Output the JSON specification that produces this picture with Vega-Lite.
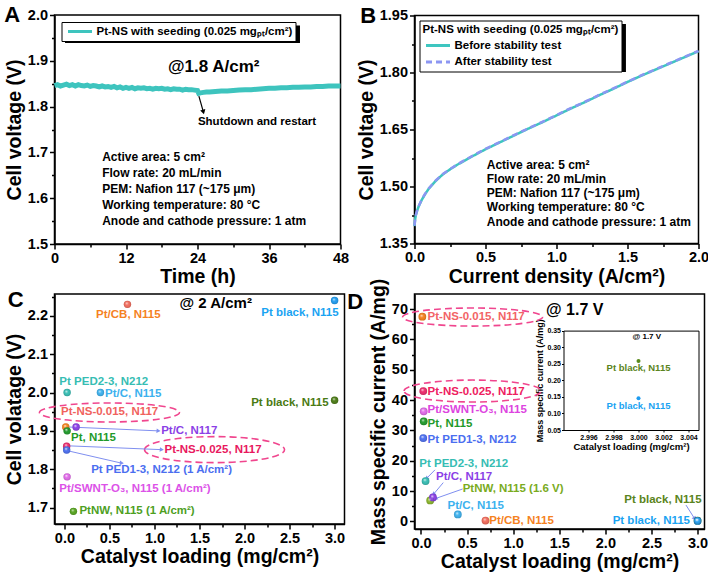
{
  "$schema": "https://vega.github.io/schema/vega-lite/v6.json",
  "background": "white",
  "padding": {"left": 2.5, "top": 3, "right": 2, "bottom": 2},
  "config": {
    "font": "Liberation Sans",
    "view": {"stroke": "black", "strokeWidth": 1.5},
    "axis": {
      "grid": false, "domainColor": "black", "domainWidth": 1.5, "tickColor": "black", "tickWidth": 1.5, "tickSize": 5,
      "labelFontSize": 14.5, "labelFontWeight": "bold", "labelColor": "black", "labelPadding": 2, "labelFlush": false,
      "titleFontSize": 19.5, "titleFontWeight": "bold", "titleColor": "black", "titlePadding": 3
    },
    "text": {"fontWeight": "bold", "font": "Liberation Sans"},
    "legend": {"labelFontWeight": "bold", "labelFontSize": 11.5, "labelColor": "black", "titleFontWeight": "bold", "titleFontSize": 11.5, "titleColor": "black", "strokeColor": "black", "fillColor": "white", "symbolType": "M-2.4,0L2.4,0", "symbolSize": 100, "symbolOffset": 9, "labelOffset": 10, "symbolStrokeWidth": 3, "labelLimit": 400, "titleLimit": 400, "padding": 3}
  },
  "datasets": {
    "lineA": [{"t":0,"v":1.846},{"t":0.5,"v":1.848},{"t":1,"v":1.845},{"t":1.5,"v":1.847},{"t":2,"v":1.849},{"t":2.5,"v":1.846},{"t":3,"v":1.848},{"t":3.5,"v":1.845},{"t":4,"v":1.848},{"t":4.5,"v":1.846},{"t":5,"v":1.845},{"t":5.5,"v":1.847},{"t":6,"v":1.844},{"t":6.5,"v":1.846},{"t":7,"v":1.845},{"t":7.5,"v":1.843},{"t":8,"v":1.845},{"t":8.5,"v":1.843},{"t":9,"v":1.844},{"t":9.5,"v":1.842},{"t":10,"v":1.844},{"t":10.5,"v":1.841},{"t":11,"v":1.843},{"t":11.5,"v":1.840},{"t":12,"v":1.842},{"t":12.5,"v":1.840},{"t":13,"v":1.842},{"t":13.5,"v":1.839},{"t":14,"v":1.841},{"t":14.5,"v":1.840},{"t":15,"v":1.841},{"t":15.5,"v":1.839},{"t":16,"v":1.840},{"t":16.5,"v":1.838},{"t":17,"v":1.840},{"t":17.5,"v":1.839},{"t":18,"v":1.840},{"t":18.5,"v":1.838},{"t":19,"v":1.839},{"t":19.5,"v":1.837},{"t":20,"v":1.839},{"t":20.5,"v":1.838},{"t":21,"v":1.838},{"t":21.5,"v":1.836},{"t":22,"v":1.838},{"t":22.5,"v":1.837},{"t":23,"v":1.837},{"t":23.5,"v":1.836},{"t":24,"v":1.835},{"t":24.2,"v":1.829},{"t":24.5,"v":1.830},{"t":25,"v":1.831},{"t":25.5,"v":1.832},{"t":26,"v":1.832},{"t":27,"v":1.833},{"t":28,"v":1.834},{"t":29,"v":1.834},{"t":30,"v":1.835},{"t":31,"v":1.836},{"t":32,"v":1.837},{"t":33,"v":1.837},{"t":34,"v":1.838},{"t":35,"v":1.839},{"t":36,"v":1.840},{"t":37,"v":1.840},{"t":38,"v":1.841},{"t":39,"v":1.841},{"t":40,"v":1.842},{"t":41,"v":1.842},{"t":42,"v":1.843},{"t":43,"v":1.843},{"t":44,"v":1.844},{"t":45,"v":1.844},{"t":46,"v":1.845},{"t":47,"v":1.845},{"t":48,"v":1.845}],
    "notesA": [{"x":8.0,"y":1.689,"t":"Active area: 5 cm²"},{"x":8.0,"y":1.655,"t":"Flow rate: 20 mL/min"},{"x":8.0,"y":1.620,"t":"PEM: Nafion 117 (~175 μm)"},{"x":8.0,"y":1.586,"t":"Working temperature: 80 °C"},{"x":8.0,"y":1.551,"t":"Anode and cathode pressure: 1 atm"}],
    "notesB": [{"x":0.509,"y":1.557,"t":"Active area: 5 cm²"},{"x":0.509,"y":1.521,"t":"Flow rate: 20 mL/min"},{"x":0.509,"y":1.483,"t":"PEM: Nafion 117 (~175 μm)"},{"x":0.509,"y":1.445,"t":"Working temperature: 80 °C"},{"x":0.509,"y":1.407,"t":"Anode and cathode pressure: 1 atm"}],
    "curveB": [
      {"s":"Before stability test","j":0,"v":1.396},{"s":"Before stability test","j":0.005,"v":1.415},{"s":"Before stability test","j":0.01,"v":1.425},{"s":"Before stability test","j":0.02,"v":1.438},{"s":"Before stability test","j":0.03,"v":1.448},{"s":"Before stability test","j":0.05,"v":1.464},{"s":"Before stability test","j":0.075,"v":1.48},{"s":"Before stability test","j":0.1,"v":1.494},{"s":"Before stability test","j":0.15,"v":1.515},{"s":"Before stability test","j":0.2,"v":1.532},{"s":"Before stability test","j":0.25,"v":1.545},{"s":"Before stability test","j":0.3,"v":1.557},{"s":"Before stability test","j":0.4,"v":1.578},{"s":"Before stability test","j":0.5,"v":1.598},{"s":"Before stability test","j":0.6,"v":1.616},{"s":"Before stability test","j":0.7,"v":1.634},{"s":"Before stability test","j":0.8,"v":1.652},{"s":"Before stability test","j":0.9,"v":1.669},{"s":"Before stability test","j":1.0,"v":1.687},{"s":"Before stability test","j":1.1,"v":1.705},{"s":"Before stability test","j":1.2,"v":1.722},{"s":"Before stability test","j":1.3,"v":1.74},{"s":"Before stability test","j":1.4,"v":1.757},{"s":"Before stability test","j":1.5,"v":1.775},{"s":"Before stability test","j":1.6,"v":1.792},{"s":"Before stability test","j":1.7,"v":1.808},{"s":"Before stability test","j":1.8,"v":1.824},{"s":"Before stability test","j":1.9,"v":1.84},{"s":"Before stability test","j":2.0,"v":1.856},
      {"s":"After stability test","j":0,"v":1.397},{"s":"After stability test","j":0.005,"v":1.416},{"s":"After stability test","j":0.01,"v":1.426},{"s":"After stability test","j":0.02,"v":1.439},{"s":"After stability test","j":0.03,"v":1.449},{"s":"After stability test","j":0.05,"v":1.465},{"s":"After stability test","j":0.075,"v":1.481},{"s":"After stability test","j":0.1,"v":1.495},{"s":"After stability test","j":0.15,"v":1.516},{"s":"After stability test","j":0.2,"v":1.533},{"s":"After stability test","j":0.25,"v":1.546},{"s":"After stability test","j":0.3,"v":1.558},{"s":"After stability test","j":0.4,"v":1.579},{"s":"After stability test","j":0.5,"v":1.599},{"s":"After stability test","j":0.6,"v":1.617},{"s":"After stability test","j":0.7,"v":1.635},{"s":"After stability test","j":0.8,"v":1.653},{"s":"After stability test","j":0.9,"v":1.670},{"s":"After stability test","j":1.0,"v":1.688},{"s":"After stability test","j":1.1,"v":1.706},{"s":"After stability test","j":1.2,"v":1.723},{"s":"After stability test","j":1.3,"v":1.741},{"s":"After stability test","j":1.4,"v":1.758},{"s":"After stability test","j":1.5,"v":1.776},{"s":"After stability test","j":1.6,"v":1.793},{"s":"After stability test","j":1.7,"v":1.809},{"s":"After stability test","j":1.8,"v":1.825},{"s":"After stability test","j":1.9,"v":1.841},{"s":"After stability test","j":2.0,"v":1.857}
    ],
    "cpts": [
      {"key":"PtCB","label":"Pt/CB, N115","x":0.7,"y":2.23,"lx":0.352,"ly":2.202},
      {"key":"PtBlackBlue","label":"Pt black, N115","x":3.0,"y":2.24,"lx":2.186,"ly":2.208},
      {"key":"PED23","label":"Pt PED2-3, N212","x":0.03,"y":2.0,"lx":-0.056,"ly":2.028},
      {"key":"PtCN115","label":"Pt/C, N115","x":0.4,"y":2.0,"lx":0.452,"ly":1.997},
      {"key":"PtBlackOlive","label":"Pt black, N115","x":3.0,"y":1.98,"lx":2.074,"ly":1.973},
      {"key":"NS015","label":"Pt-NS-0.015, N117","x":0.015,"y":1.91,"lx":-0.037,"ly":1.948},
      {"key":"PtCN117","label":"Pt/C, N117","x":0.13,"y":1.91,"lx":1.074,"ly":1.899},
      {"key":"PtN115","label":"Pt, N115","x":0.03,"y":1.9,"lx":0.074,"ly":1.881},
      {"key":"NS025","label":"Pt-NS-0.025, N117","x":0.025,"y":1.86,"lx":1.111,"ly":1.849},
      {"key":"PED13","label":"Pt PED1-3, N212 (1 A/cm²)","x":0.025,"y":1.85,"lx":0.297,"ly":1.797},
      {"key":"SWNT","label":"Pt/SWNT-O₃, N115 (1 A/cm²)","x":0.03,"y":1.78,"lx":-0.056,"ly":1.749},
      {"key":"PtNW","label":"PtNW, N115 (1 A/cm²)","x":0.1,"y":1.69,"lx":0.167,"ly":1.691}
    ],
    "dpts": [
      {"key":"NS015","label":"Pt-NS-0.015, N117","x":0.015,"y":67.5,"lx":0.072,"ly":67.4},
      {"key":"NS025","label":"Pt-NS-0.025, N117","x":0.025,"y":43,"lx":0.072,"ly":42.8},
      {"key":"SWNT","label":"Pt/SWNT-O₃, N115","x":0.03,"y":36.3,"lx":0.072,"ly":36.8},
      {"key":"PtN115","label":"Pt, N115","x":0.03,"y":33,"lx":0.072,"ly":32.2},
      {"key":"PED13","label":"Pt PED1-3, N212","x":0.025,"y":27.5,"lx":0.072,"ly":26.9},
      {"key":"PED23","label":"Pt PED2-3, N212","x":0.05,"y":13.3,"lx":-0.018,"ly":19.0},
      {"key":"PtNW","label":"PtNW, N115 (1.6 V)","x":0.1,"y":6.9,"lx":0.452,"ly":10.6},
      {"key":"PtCN117","label":"Pt/C, N117","x":0.13,"y":7.9,"lx":0.163,"ly":14.5},
      {"key":"PtCN115","label":"Pt/C, N115","x":0.4,"y":2.3,"lx":0.289,"ly":5.1},
      {"key":"PtCB","label":"Pt/CB, N115","x":0.7,"y":0.3,"lx":0.741,"ly":0.27},
      {"key":"PtBlackOlive","label":"Pt black, N115","x":3.0,"y":0.26,"lx":2.205,"ly":7.1},
      {"key":"PtBlackBlue","label":"Pt black, N115","x":3.0,"y":0.15,"lx":2.079,"ly":0.27}
    ],
    "inset": [
      {"key":"PtBlackOlive","label":"Pt black, N115","x":3.0,"y":0.258,"ly":0.236},
      {"key":"PtBlackBlue","label":"Pt black, N115","x":3.0,"y":0.146,"ly":0.122}
    ],
    "arrowsC": [
      {"x":0.05,"y":1.91,"x2":1.038,"y2":1.900},
      {"x":0.038,"y":1.861,"x2":1.074,"y2":1.851},
      {"x":0.038,"y":1.848,"x2":0.63,"y2":1.816}
    ],
    "arrowsD": [
      {"g":"a","x":0.152,"y":17.0,"x2":0.065,"y2":14.3},
      {"g":"a","x":0.242,"y":12.8,"x2":0.14,"y2":9.1},
      {"g":"a","x":0.452,"y":10.7,"x2":0.163,"y2":7.6},
      {"g":"b","x":2.874,"y":5.4,"x2":2.965,"y2":1.05}
    ]
  },
  "columns": 2,
  "spacing": {"row": 47, "column": 70},
  "bounds": "flush",
  "align": {"row": "all", "column": "none"},
  "center": true,
  "resolve": {"scale": {"color": "independent", "fill": "independent", "strokeDash": "independent"}},
  "concat": [
    {
      "width": 286, "height": 229,
      "resolve": {"axis": {"x": "independent", "y": "independent"}},
      "layer": [
        {
          "data": {"values": [{"x": 1.762, "x2": 41.2, "y": 1.9771, "y2": 1.9389}]},
          "mark": {"type": "rect", "color": "black"},
          "encoding": {"x": {"field": "x", "type": "quantitative", "axis": null}, "x2": {"field": "x2"}, "y": {"field": "y", "type": "quantitative", "axis": null}, "y2": {"field": "y2"}}
        },
        {
          "data": {"name": "lineA"},
          "mark": {"type": "line", "strokeWidth": 5},
          "encoding": {
            "x": {"field": "t", "type": "quantitative", "scale": {"domain": [0, 48], "nice": false, "zero": false}, "axis": {"values": [0, 12, 24, 36, 48], "title": "Time (h)"}},
            "y": {"field": "v", "type": "quantitative", "scale": {"domain": [1.5, 2.0], "nice": false, "zero": false}, "axis": {"values": [1.5, 1.6, 1.7, 1.8, 1.9, 2.0], "format": ".1f", "title": "Cell voltage (V)"}},
            "color": {"datum": "Pt-NS with seeding (0.025 mgₚₜ/cm²)", "type": "nominal", "scale": {"range": ["#3ec4be"]}, "legend": {"title": null, "orient": "top-left", "offset": 7}}
          }
        },
        {
          "data": {"name": "notesA"},
          "mark": {"type": "text", "align": "left", "baseline": "middle", "fontSize": 12, "color": "black"},
          "encoding": {
            "x": {"field": "x", "type": "quantitative", "axis": {"orient": "bottom", "values": [6, 18, 30, 42], "labels": false, "domain": false, "tickSize": 3, "title": null}},
            "y": {"field": "y", "type": "quantitative", "axis": {"orient": "left", "values": [1.55, 1.65, 1.75, 1.85, 1.95], "labels": false, "domain": false, "tickSize": 3, "title": null}},
            "text": {"field": "t"}
          }
        },
        {
          "data": {"values": [{"x": 19.03, "y": 1.887, "t": "@1.8 A/cm²"}]},
          "mark": {"type": "text", "align": "left", "baseline": "middle", "fontSize": 17, "color": "black"},
          "encoding": {"x": {"field": "x", "type": "quantitative", "axis": null}, "y": {"field": "y", "type": "quantitative", "axis": null}, "text": {"field": "t"}}
        },
        {
          "data": {"values": [{"x": 24.07, "y": 1.767, "t": "Shutdown and restart"}]},
          "mark": {"type": "text", "align": "left", "baseline": "middle", "fontSize": 11.5, "color": "black"},
          "encoding": {"x": {"field": "x", "type": "quantitative", "axis": null}, "y": {"field": "y", "type": "quantitative", "axis": null}, "text": {"field": "t"}}
        },
        {
          "data": {"values": [{"x": 24.23, "y": 1.823, "x2": 24.95, "y2": 1.79}]},
          "mark": {"type": "rule", "color": "black", "strokeWidth": 1.2},
          "encoding": {"x": {"field": "x", "type": "quantitative", "axis": null}, "y": {"field": "y", "type": "quantitative", "axis": null}, "x2": {"field": "x2"}, "y2": {"field": "y2"}}
        },
        {
          "data": {"values": [{"x": 24.95, "y": 1.79}]},
          "mark": {"type": "point", "shape": "triangle", "filled": true, "color": "black", "size": 28, "angle": 165, "opacity": 1},
          "encoding": {"x": {"field": "x", "type": "quantitative", "axis": null}, "y": {"field": "y", "type": "quantitative", "axis": null}}
        },
        {
          "data": {"values": [{"x": -8.44, "y": 2.0, "t": "A"}]},
          "mark": {"type": "text", "align": "left", "baseline": "middle", "fontSize": 22, "color": "black"},
          "encoding": {"x": {"field": "x", "type": "quantitative", "axis": null}, "y": {"field": "y", "type": "quantitative", "axis": null}, "text": {"field": "t"}}
        }
      ]
    },
    {
      "width": 284, "height": 228,
      "resolve": {"axis": {"x": "independent", "y": "independent"}},
      "layer": [
        {
          "data": {"values": [{"x": 0.0599, "x2": 1.489, "y": 1.9276, "y2": 1.8013}]},
          "mark": {"type": "rect", "color": "black"},
          "encoding": {"x": {"field": "x", "type": "quantitative", "axis": null}, "x2": {"field": "x2"}, "y": {"field": "y", "type": "quantitative", "axis": null}, "y2": {"field": "y2"}}
        },
        {
          "data": {"name": "curveB"},
          "mark": {"type": "line", "strokeWidth": 2.5},
          "encoding": {
            "x": {"field": "j", "type": "quantitative", "scale": {"domain": [0, 2], "nice": false, "zero": false}, "axis": {"values": [0, 0.5, 1, 1.5, 2], "format": ".1f", "title": "Current density (A/cm²)"}},
            "y": {"field": "v", "type": "quantitative", "scale": {"domain": [1.35, 1.95], "nice": false, "zero": false}, "axis": {"values": [1.35, 1.5, 1.65, 1.8, 1.95], "format": ".2f", "title": "Cell voltage (V)"}},
            "color": {"field": "s", "type": "nominal", "scale": {"domain": ["Before stability test", "After stability test"], "range": ["#3ec6c0", "#8c96f2"]}, "legend": {"title": "Pt-NS with seeding (0.025 mgₚₜ/cm²)", "orient": "top-left", "offset": 5, "rowPadding": 3.5, "titlePadding": 4}},
            "strokeDash": {"field": "s", "type": "nominal", "scale": {"domain": ["Before stability test", "After stability test"], "range": [[1, 0], [6, 4]]}, "legend": {"title": "Pt-NS with seeding (0.025 mgₚₜ/cm²)", "orient": "top-left", "offset": 5, "rowPadding": 3.5, "titlePadding": 4}}
          }
        },
        {
          "data": {"name": "notesB"},
          "mark": {"type": "text", "align": "left", "baseline": "middle", "fontSize": 12, "color": "black"},
          "encoding": {
            "x": {"field": "x", "type": "quantitative", "axis": {"orient": "bottom", "values": [0.25, 0.75, 1.25, 1.75], "labels": false, "domain": false, "tickSize": 3, "title": null}},
            "y": {"field": "y", "type": "quantitative", "axis": {"orient": "left", "values": [1.425, 1.575, 1.725, 1.875], "labels": false, "domain": false, "tickSize": 3, "title": null}},
            "text": {"field": "t"}
          }
        },
        {
          "data": {"values": [{"x": -0.382, "y": 1.95, "t": "B"}]},
          "mark": {"type": "text", "align": "left", "baseline": "middle", "fontSize": 22, "color": "black"},
          "encoding": {"x": {"field": "x", "type": "quantitative", "axis": null}, "y": {"field": "y", "type": "quantitative", "axis": null}, "text": {"field": "t"}}
        }
      ]
    },
    {
      "width": 290, "height": 230,
      "resolve": {"axis": {"x": "independent", "y": "independent"}},
      "layer": [
        {
          "data": {"values": [{"x": 0.5, "y": 1.948}]},
          "mark": {"type": "point", "shape": "M-1,0C-1,-0.0751,-0.5523,-0.136,0,-0.136C0.5523,-0.136,1,-0.0751,1,0C1,0.0751,0.5523,0.136,0,0.136C-0.5523,0.136,-1,0.0751,-1,0Z", "size": 19600, "filled": false, "stroke": "#f0468e", "strokeWidth": 1.6, "strokeDash": [7, 4], "opacity": 1},
          "encoding": {"x": {"field": "x", "type": "quantitative", "axis": null}, "y": {"field": "y", "type": "quantitative", "axis": null}}
        },
        {
          "data": {"values": [{"x": 1.667, "y": 1.851}]},
          "mark": {"type": "point", "shape": "M-1,0C-1,-0.1027,-0.5523,-0.186,0,-0.186C0.5523,-0.186,1,-0.1027,1,0C1,0.1027,0.5523,0.186,0,0.186C-0.5523,0.186,-1,0.1027,-1,0Z", "size": 19600, "filled": false, "stroke": "#f0468e", "strokeWidth": 1.6, "strokeDash": [7, 4], "opacity": 1},
          "encoding": {"x": {"field": "x", "type": "quantitative", "axis": null}, "y": {"field": "y", "type": "quantitative", "axis": null}}
        },
        {
          "data": {"name": "arrowsC"},
          "mark": {"type": "rule", "color": "#7f8ff0", "strokeWidth": 1},
          "encoding": {"x": {"field": "x", "type": "quantitative", "axis": null}, "y": {"field": "y", "type": "quantitative", "axis": null}, "x2": {"field": "x2"}, "y2": {"field": "y2"}}
        },
        {
          "data": {"name": "arrowsC"},
          "mark": {"type": "point", "shape": "triangle", "filled": true, "color": "#7f8ff0", "size": 22, "angle": 95, "opacity": 1},
          "encoding": {"x": {"field": "x2", "type": "quantitative", "axis": null}, "y": {"field": "y2", "type": "quantitative", "axis": null}}
        },
        {
          "data": {"name": "cpts"},
          "mark": {"type": "circle", "size": 55, "opacity": 1},
          "encoding": {
            "x": {"field": "x", "type": "quantitative", "scale": {"domain": [-0.11, 3.11], "nice": false, "zero": false}, "axis": {"values": [0, 0.5, 1, 1.5, 2, 2.5, 3], "format": ".1f", "title": "Catalyst loading (mg/cm²)"}},
            "y": {"field": "y", "type": "quantitative", "scale": {"domain": [1.657, 2.257], "nice": false, "zero": false}, "axis": {"values": [1.7, 1.8, 1.9, 2.0, 2.1, 2.2], "format": ".1f", "title": "Cell volatage (V)"}},
            "fill": {"field": "key", "type": "nominal", "scale": {"domain": ["PtCB", "PtBlackBlue", "PED23", "PtCN115", "PtBlackOlive", "NS015", "PtCN117", "PtN115", "NS025", "PED13", "SWNT", "PtNW"], "range": ["#f26b5b", "#1e9cf0", "#36bdb3", "#3cb1ee", "#4a7a14", "#f5841f", "#8b3fe6", "#1f9a2a", "#ec2a6c", "#4b6ef0", "#e06ae8", "#55a31e"]}, "legend": null}
          }
        },
        {
          "data": {"name": "cpts"},
          "mark": {"type": "circle", "size": 55, "opacity": 1, "fill": {"gradient": "radial", "x1": 0.38, "y1": 0.32, "r1": 0, "x2": 0.5, "y2": 0.5, "r2": 0.5, "stops": [{"offset": 0, "color": "rgba(255,255,255,0.9)"}, {"offset": 0.45, "color": "rgba(255,255,255,0)"}, {"offset": 1, "color": "rgba(0,0,0,0.18)"}]}},
          "encoding": {"x": {"field": "x", "type": "quantitative", "axis": null}, "y": {"field": "y", "type": "quantitative", "axis": null}}
        },
        {
          "data": {"name": "cpts"},
          "mark": {"type": "text", "align": "left", "baseline": "middle", "fontSize": 11.5},
          "encoding": {
            "x": {"field": "lx", "type": "quantitative", "axis": null},
            "y": {"field": "ly", "type": "quantitative", "axis": null},
            "text": {"field": "label"},
            "color": {"field": "key", "type": "nominal", "scale": {"domain": ["PtCB", "PtBlackBlue", "PED23", "PtCN115", "PtBlackOlive", "NS015", "PtCN117", "PtN115", "NS025", "PED13", "SWNT", "PtNW"], "range": ["#f5821f", "#1aa3f2", "#36bdb3", "#3cb1ee", "#4a7a14", "#f0625d", "#8b3fe6", "#1f9a2a", "#e8185e", "#4b6ef0", "#dc52e8", "#4ea01f"]}, "legend": null}
          }
        },
        {
          "data": {"values": [{"x": 1.278, "y": 2.234, "t": "@ 2 A/cm²"}]},
          "mark": {"type": "text", "align": "left", "baseline": "middle", "fontSize": 15, "color": "black"},
          "encoding": {
            "x": {"field": "x", "type": "quantitative", "axis": {"orient": "bottom", "values": [0.25, 0.75, 1.25, 1.75, 2.25, 2.75], "labels": false, "domain": false, "tickSize": 3, "title": null}},
            "y": {"field": "y", "type": "quantitative", "axis": {"orient": "left", "values": [1.75, 1.85, 1.95, 2.05, 2.15, 2.25], "labels": false, "domain": false, "tickSize": 3, "title": null}},
            "text": {"field": "t"}
          }
        },
        {
          "data": {"values": [{"x": -0.63, "y": 2.242, "t": "C"}]},
          "mark": {"type": "text", "align": "left", "baseline": "middle", "fontSize": 22, "color": "black"},
          "encoding": {"x": {"field": "x", "type": "quantitative", "axis": null}, "y": {"field": "y", "type": "quantitative", "axis": null}, "text": {"field": "t"}}
        }
      ]
    },
    {
      "width": 290, "height": 235,
      "resolve": {"scale": {"x": "independent", "y": "independent"}, "axis": {"x": "independent", "y": "independent"}},
      "layer": [
        {
          "resolve": {"axis": {"x": "independent", "y": "independent"}},
          "layer": [
            {
              "data": {"values": [{"x": 0.56, "y": 67.4}]},
              "mark": {"type": "point", "shape": "M-1,0C-1,-0.0712,-0.5523,-0.129,0,-0.129C0.5523,-0.129,1,-0.0712,1,0C1,0.0712,0.5523,0.129,0,0.129C-0.5523,0.129,-1,0.0712,-1,0Z", "size": 19600, "filled": false, "stroke": "#f0468e", "strokeWidth": 1.6, "strokeDash": [7, 4], "opacity": 1},
              "encoding": {"x": {"field": "x", "type": "quantitative", "axis": null}, "y": {"field": "y", "type": "quantitative", "axis": null}}
            },
            {
              "data": {"values": [{"x": 0.56, "y": 43.0}]},
              "mark": {"type": "point", "shape": "M-1,0C-1,-0.0884,-0.5523,-0.16,0,-0.16C0.5523,-0.16,1,-0.0884,1,0C1,0.0884,0.5523,0.16,0,0.16C-0.5523,0.16,-1,0.0884,-1,0Z", "size": 18769, "filled": false, "stroke": "#f0468e", "strokeWidth": 1.6, "strokeDash": [7, 4], "opacity": 1},
              "encoding": {"x": {"field": "x", "type": "quantitative", "axis": null}, "y": {"field": "y", "type": "quantitative", "axis": null}}
            },
            {
              "data": {"name": "arrowsD"},
              "mark": {"type": "rule", "color": "#7f8ff0", "strokeWidth": 1},
              "encoding": {"x": {"field": "x", "type": "quantitative", "axis": null}, "y": {"field": "y", "type": "quantitative", "axis": null}, "x2": {"field": "x2"}, "y2": {"field": "y2"}}
            },
            {
              "data": {"name": "arrowsD"},
              "transform": [{"filter": "datum.g == 'a'"}],
              "mark": {"type": "point", "shape": "triangle", "filled": true, "color": "#7f8ff0", "size": 22, "angle": 230, "opacity": 1},
              "encoding": {"x": {"field": "x2", "type": "quantitative", "axis": null}, "y": {"field": "y2", "type": "quantitative", "axis": null}}
            },
            {
              "data": {"name": "arrowsD"},
              "transform": [{"filter": "datum.g == 'b'"}],
              "mark": {"type": "point", "shape": "triangle", "filled": true, "color": "#7f8ff0", "size": 22, "angle": 148, "opacity": 1},
              "encoding": {"x": {"field": "x2", "type": "quantitative", "axis": null}, "y": {"field": "y2", "type": "quantitative", "axis": null}}
            },
            {
              "data": {"name": "dpts"},
              "mark": {"type": "circle", "size": 60, "opacity": 1},
              "encoding": {
                "x": {"field": "x", "type": "quantitative", "scale": {"domain": [-0.07, 3.075], "nice": false, "zero": false}, "axis": {"orient": "bottom", "values": [0, 0.5, 1, 1.5, 2, 2.5, 3], "format": ".1f", "title": "Catalyst loading (mg/cm²)"}},
                "y": {"field": "y", "type": "quantitative", "scale": {"domain": [-2.5, 75], "nice": false, "zero": false}, "axis": {"orient": "left", "values": [0, 10, 20, 30, 40, 50, 60, 70], "title": "Mass specific current (A/mg)"}},
                "fill": {"field": "key", "type": "nominal", "scale": {"domain": ["PtCB", "PtBlackBlue", "PED23", "PtCN115", "PtBlackOlive", "NS015", "PtCN117", "PtN115", "NS025", "PED13", "SWNT", "PtNW"], "range": ["#f26b5b", "#1e9cf0", "#36bdb3", "#3cb1ee", "#5a8a1c", "#f5801a", "#8b3fe6", "#1f9a2a", "#ec2a6c", "#4b6ef0", "#e06ae8", "#8ab52a"]}, "legend": null}
              }
            },
            {
              "data": {"name": "dpts"},
              "mark": {"type": "circle", "size": 60, "opacity": 1, "fill": {"gradient": "radial", "x1": 0.38, "y1": 0.32, "r1": 0, "x2": 0.5, "y2": 0.5, "r2": 0.5, "stops": [{"offset": 0, "color": "rgba(255,255,255,0.9)"}, {"offset": 0.45, "color": "rgba(255,255,255,0)"}, {"offset": 1, "color": "rgba(0,0,0,0.18)"}]}},
              "encoding": {"x": {"field": "x", "type": "quantitative", "axis": null}, "y": {"field": "y", "type": "quantitative", "axis": null}}
            },
            {
              "data": {"name": "dpts"},
              "mark": {"type": "text", "align": "left", "baseline": "middle", "fontSize": 11.5},
              "encoding": {
                "x": {"field": "lx", "type": "quantitative", "axis": null},
                "y": {"field": "ly", "type": "quantitative", "axis": null},
                "text": {"field": "label"},
                "color": {"field": "key", "type": "nominal", "scale": {"domain": ["PtCB", "PtBlackBlue", "PED23", "PtCN115", "PtBlackOlive", "NS015", "PtCN117", "PtN115", "NS025", "PED13", "SWNT", "PtNW"], "range": ["#f5821f", "#1aa3f2", "#36bdb3", "#3cb1ee", "#5a8420", "#f26466", "#8b3fe6", "#1f9a2a", "#ee2060", "#4b6ef0", "#dd44e0", "#7aab1e"]}, "legend": null}
              }
            },
            {
              "data": {"values": [{"x": 1.356, "y": 69.8, "t": "@ 1.7 V"}]},
              "mark": {"type": "text", "align": "left", "baseline": "middle", "fontSize": 16, "color": "black"},
              "encoding": {
                "x": {"field": "x", "type": "quantitative", "axis": {"orient": "bottom", "values": [0.25, 0.75, 1.25, 1.75, 2.25, 2.75], "labels": false, "domain": false, "tickSize": 3, "title": null}},
                "y": {"field": "y", "type": "quantitative", "axis": {"orient": "left", "values": [5, 15, 25, 35, 45, 55, 65], "labels": false, "domain": false, "tickSize": 3, "title": null}},
                "text": {"field": "t"}
              }
            },
            {
              "data": {"values": [{"x": -0.80, "y": 72.3, "t": "D"}]},
              "mark": {"type": "text", "align": "left", "baseline": "middle", "fontSize": 22, "color": "black"},
              "encoding": {"x": {"field": "x", "type": "quantitative", "axis": null}, "y": {"field": "y", "type": "quantitative", "axis": null}, "text": {"field": "t"}}
            }
          ]
        },
        {
          "resolve": {"axis": {"x": "independent", "y": "independent"}},
          "layer": [
            {
              "data": {"name": "inset"},
              "mark": {"type": "circle", "size": 16, "opacity": 1},
              "encoding": {
                "x": {"field": "x", "type": "quantitative", "scale": {"domain": [2.994, 3.0048], "range": [149, 284], "nice": false, "zero": false}, "axis": {"orient": "bottom", "offset": -99, "values": [2.996, 2.998, 3.0, 3.002, 3.004], "format": ".3f", "labelFontSize": 7, "tickSize": 2, "tickWidth": 1, "domainWidth": 1, "labelPadding": 1, "title": "Catalyst loading (mg/cm²)", "titleFontSize": 9.5, "titlePadding": 1}},
                "y": {"field": "y", "type": "quantitative", "scale": {"domain": [0.05, 0.35], "range": [136, 36.6], "nice": false, "zero": false}, "axis": {"orient": "left", "offset": -149, "values": [0.05, 0.1, 0.15, 0.2, 0.25, 0.3, 0.35], "format": ".2f", "labelFontSize": 7, "tickSize": 2, "tickWidth": 1, "domainWidth": 1, "labelPadding": 1, "title": "Mass specific current (A/mg)", "titleFontSize": 9, "titlePadding": 2}},
                "fill": {"field": "key", "type": "nominal", "legend": null}
              }
            },
            {
              "data": {"name": "inset"},
              "mark": {"type": "text", "align": "center", "baseline": "middle", "fontSize": 9.5},
              "encoding": {
                "x": {"field": "x", "type": "quantitative", "axis": {"orient": "top", "offset": -36.6, "labels": false, "ticks": false, "title": null, "domainWidth": 1}},
                "y": {"field": "ly", "type": "quantitative", "axis": {"orient": "right", "offset": -6, "labels": false, "ticks": false, "title": null, "domainWidth": 1}},
                "text": {"field": "label"},
                "color": {"field": "key", "type": "nominal", "legend": null}
              }
            },
            {
              "data": {"values": [{"x": 3.00066, "y": 0.332, "t": "@ 1.7 V"}]},
              "mark": {"type": "text", "align": "center", "baseline": "middle", "fontSize": 8, "color": "black"},
              "encoding": {"x": {"field": "x", "type": "quantitative", "axis": null}, "y": {"field": "y", "type": "quantitative", "axis": null}, "text": {"field": "t"}}
            }
          ]
        }
      ]
    }
  ]
}
